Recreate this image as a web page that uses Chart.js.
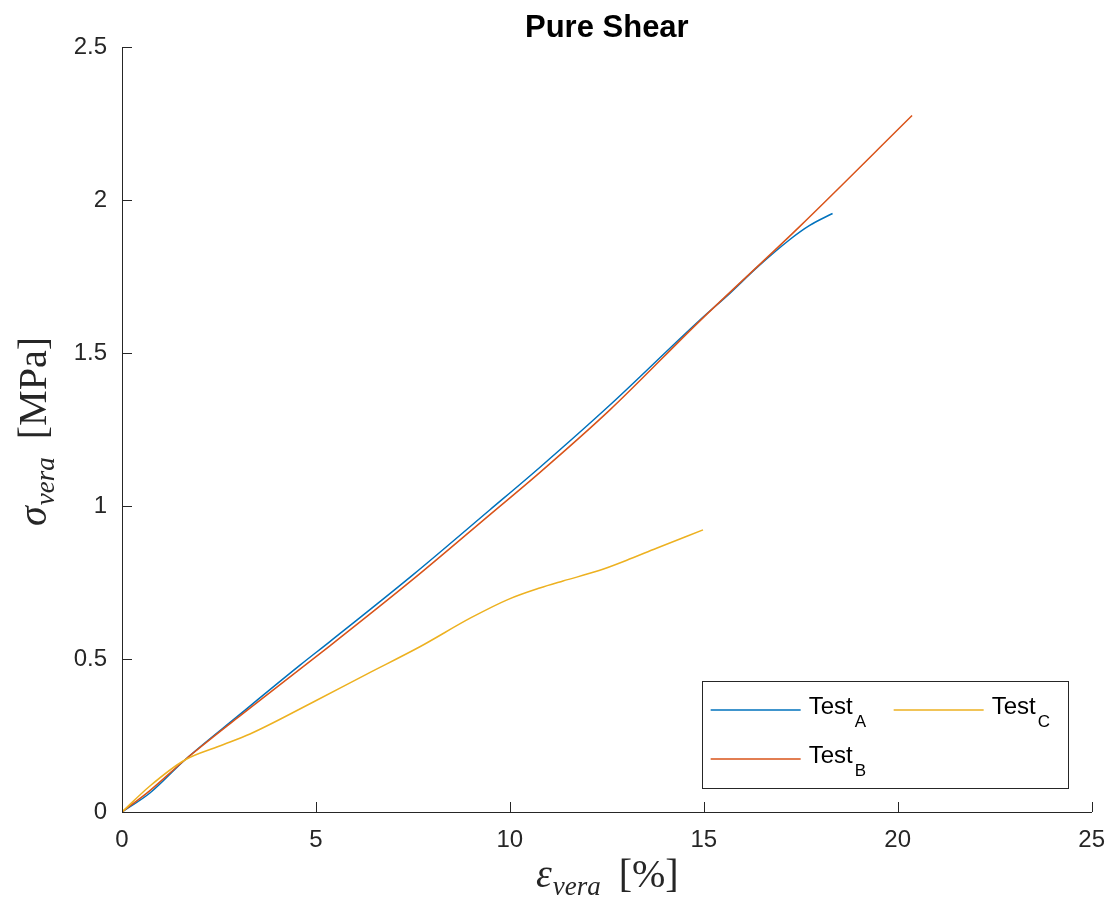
<!DOCTYPE html>
<html>
<head>
<meta charset="utf-8">
<script src="https://cdn.jsdelivr.net/npm/chart.js@4.4.1/dist/chart.umd.min.js"></script>
<style>
  html, body { margin: 0; padding: 0; background: #fff; }
  #wrap { width: 1111px; height: 908px; }
</style>
</head>
<body>
<div id="wrap"><canvas id="chart" width="1111" height="908"></canvas></div>
<script>
// 圖表數據
const titleText = 'Pure Shear';
const seriesNames = ['A', 'B', 'C'];
const seriesColors = ['#0072BD', '#D95319', '#EDB120'];

const testA_x = [0, 0.72, 1.62, 3.0, 4.59, 5.36, 7.5, 9.48, 10.77, 12.58, 14.9, 15.67, 16.36, 17.22, 17.73, 18.32];
const testA_y = [0, 0.062, 0.17, 0.315, 0.48, 0.557, 0.775, 0.987, 1.126, 1.33, 1.608, 1.695, 1.778, 1.871, 1.917, 1.956];

const testB_x = [0, 0.72, 1.62, 3.0, 5.36, 7.5, 9.48, 10.77, 12.58, 14.9, 17.47, 20.37];
const testB_y = [0, 0.07, 0.17, 0.31, 0.543, 0.76, 0.971, 1.109, 1.314, 1.605, 1.913, 2.276];

const testC_x = [0, 0.72, 1.62, 2.5, 3.3, 4.97, 6.3, 7.68, 9.0, 9.96, 10.77, 11.37, 12.3, 13.0, 13.78, 14.98];
const testC_y = [0, 0.085, 0.17, 0.215, 0.255, 0.362, 0.45, 0.54, 0.635, 0.695, 0.732, 0.755, 0.789, 0.822, 0.862, 0.922];

const xTicks = [0, 5, 10, 15, 20, 25];
const yTicks = [0, 0.5, 1, 1.5, 2, 2.5];

const axisColor = '#262626';

// 將 x / y 陣列合併成點
function toPoints(xs, ys) {
    return xs.map((x, i) => ({ x: x, y: ys[i] }));
}

const allX = [testA_x, testB_x, testC_x];
const allY = [testA_y, testB_y, testC_y];

const datasets = seriesNames.map((name, i) => ({
    label: 'Test' + name,
    data: toPoints(allX[i], allY[i]),
    borderColor: seriesColors[i],
    borderWidth: 1.5,
    pointRadius: 0,
    showLine: true,
    fill: false,
    cubicInterpolationMode: 'monotone',
    order: 3 - i // 後畫的在上面（像 MATLAB）
}));

// 自訂繪製：標題、軸標題、向內刻度、圖例
const decorPlugin = {
    id: 'decor',
    afterDraw(chart) {
        const ctx = chart.ctx;
        const area = chart.chartArea;
        const xs = chart.scales.x;
        const ys = chart.scales.y;
        ctx.save();

        // 向內刻度
        ctx.strokeStyle = axisColor;
        ctx.lineWidth = 1;
        ctx.beginPath();
        xTicks.forEach(v => {
            const px = Math.round(xs.getPixelForValue(v)) + 0.5;
            ctx.moveTo(px, area.bottom);
            ctx.lineTo(px, area.bottom - 10);
        });
        yTicks.forEach(v => {
            const py = Math.round(ys.getPixelForValue(v)) + 0.5;
            ctx.moveTo(area.left, py);
            ctx.lineTo(area.left + 10, py);
        });
        ctx.stroke();

        // 標題
        const cx = (area.left + area.right) / 2;
        ctx.fillStyle = '#000';
        ctx.font = 'bold 31px "Liberation Sans", Arial, sans-serif';
        ctx.textAlign = 'center';
        ctx.textBaseline = 'alphabetic';
        ctx.fillText(titleText, cx, 37);

        // 軸標題（數學字體）
        function mathLabel(sym, sub, unit) {
            const big = 'italic 40px "Liberation Serif", "DejaVu Serif", serif';
            const small = 'italic 27px "Liberation Serif", "DejaVu Serif", serif';
            const up = '40px "Liberation Serif", "DejaVu Serif", serif';
            ctx.font = big; const w1 = ctx.measureText(sym).width;
            ctx.font = small; const w2 = ctx.measureText(sub).width;
            ctx.font = up; const w3 = ctx.measureText(unit).width;
            const gap = 18;
            const total = w1 + w2 + gap + w3;
            let x0 = -total / 2;
            ctx.textAlign = 'left';
            ctx.fillStyle = axisColor;
            ctx.font = big; ctx.fillText(sym, x0, 0); x0 += w1 + 1;
            ctx.font = small; ctx.fillText(sub, x0, 8); x0 += w2 + gap;
            ctx.font = up; ctx.fillText(unit, x0, 0);
        }
        ctx.save();
        ctx.translate(cx, 887);
        mathLabel('ε', 'vera', '[%]');
        ctx.restore();

        ctx.save();
        ctx.translate(46, 432);
        ctx.rotate(-Math.PI / 2);
        mathLabel('σ', 'vera', '[MPa]');
        ctx.restore();

        // 圖例
        const lw = 366, lh = 107;
        const lx = area.right - 24 - lw;
        const ly = area.bottom - 24 - lh;
        ctx.fillStyle = '#fff';
        ctx.fillRect(lx, ly, lw, lh);
        ctx.strokeStyle = axisColor;
        ctx.lineWidth = 1;
        ctx.strokeRect(Math.round(lx) + 0.5, Math.round(ly) + 0.5, lw, lh);
        const slots = [[0, 0], [0, 1], [1, 0]]; // A, B 在左欄；C 在右欄
        datasets.forEach((ds, i) => {
            const col = slots[i][0], row = slots[i][1];
            const ex = lx + 9 + col * 183;
            const ey = ly + 29 + row * 49;
            ctx.strokeStyle = ds.borderColor;
            ctx.lineWidth = 1.5;
            ctx.beginPath();
            ctx.moveTo(ex, ey);
            ctx.lineTo(ex + 90, ey);
            ctx.stroke();
            ctx.fillStyle = '#000';
            ctx.textAlign = 'left';
            ctx.font = '24px "Liberation Sans", Arial, sans-serif';
            ctx.fillText('Test', ex + 98, ey + 4);
            const tw = ctx.measureText('Test').width;
            ctx.font = '17px "Liberation Sans", Arial, sans-serif';
            ctx.fillText(seriesNames[i], ex + 98 + tw + 2, ey + 17);
        });

        ctx.restore();
    }
};

const ctx = document.getElementById('chart').getContext('2d');
const chart = new Chart(ctx, {
    type: 'scatter',
    data: { datasets: datasets },
    options: {
        responsive: false,
        animation: false,
        devicePixelRatio: 1,
        layout: { padding: { left: 0, right: 11, top: 47, bottom: 0 } },
        plugins: {
            legend: { display: false },
            title: { display: false },
            tooltip: { enabled: false }
        },
        scales: {
            x: {
                type: 'linear',
                min: 0, max: 25,
                afterBuildTicks(scale) { scale.ticks = xTicks.map(v => ({ value: v })); },
                afterFit(scale) { scale.height = 96; },
                grid: { display: false },
                border: { display: true, color: axisColor, width: 1 },
                ticks: {
                    color: axisColor,
                    padding: 6,
                    callback: v => String(v),
                    font: { family: '"Liberation Sans", Arial, sans-serif', size: 24 }
                }
            },
            y: {
                type: 'linear',
                min: 0, max: 2.5,
                afterBuildTicks(scale) { scale.ticks = yTicks.map(v => ({ value: v })); },
                afterFit(scale) { scale.width = 122; },
                grid: { display: false },
                border: { display: true, color: axisColor, width: 1 },
                ticks: {
                    color: axisColor,
                    padding: 7,
                    callback: v => String(v),
                    font: { family: '"Liberation Sans", Arial, sans-serif', size: 24 }
                }
            }
        }
    },
    plugins: [decorPlugin]
});
</script>
</body>
</html>
